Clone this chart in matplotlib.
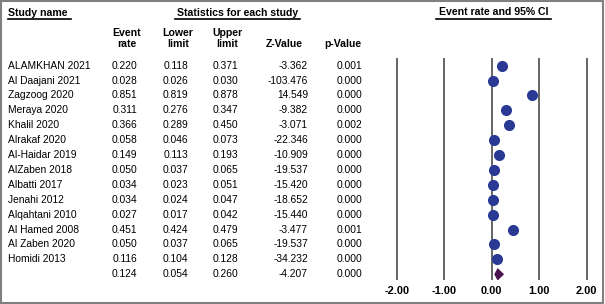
import matplotlib
matplotlib.use("Agg")
import matplotlib.pyplot as plt
from matplotlib import transforms
from matplotlib.lines import Line2D
from matplotlib.patches import Polygon, Rectangle

plt.rcParams['font.family'] = ['Liberation Sans', 'DejaVu Sans']

studies = ["ALAMKHAN 2021", "Al Daajani 2021", "Zagzoog 2020", "Meraya 2020", "Khalil 2020",
           "Alrakaf 2020", "Al-Haidar 2019", "AlZaben 2018", "Albatti 2017", "Jenahi 2012",
           "Alqahtani 2010", "Al Hamed 2008", "Al Zaben 2020", "Homidi 2013"]
event = [0.220, 0.028, 0.851, 0.311, 0.366, 0.058, 0.149, 0.050, 0.034, 0.034, 0.027, 0.451, 0.050, 0.116]
lower = [0.118, 0.026, 0.819, 0.276, 0.289, 0.046, 0.113, 0.037, 0.023, 0.024, 0.017, 0.424, 0.037, 0.104]
upper = [0.371, 0.030, 0.878, 0.347, 0.450, 0.073, 0.193, 0.065, 0.051, 0.047, 0.042, 0.479, 0.065, 0.128]
zval = [-3.362, -103.476, 14.549, -9.382, -3.071, -22.346, -10.909, -19.537, -15.420, -18.652,
        -15.440, -3.477, -19.537, -34.232]
pval = [0.001, 0.000, 0.000, 0.000, 0.002, 0.000, 0.000, 0.000, 0.000, 0.000, 0.000, 0.001, 0.000, 0.000]
summary = {"event": 0.124, "lower": 0.054, "upper": 0.260, "z": -4.207, "p": 0.000}
xticks = [-2, -1, 0, 1, 2]
xticklabels = ["-2.00", "-1.00", "0.00", "1.00", "2.00"]

W, H = 605, 304
fig = plt.figure(figsize=(W / 100, H / 100), dpi=100)
fig.patch.set_facecolor("white")

def fx(px):
    return px / W

def fy(py):
    return 1 - py / H

# forest axes
ax_left, ax_right = 387.2, 596.2
ax_top, ax_bot = 58, 280
ax = fig.add_axes([fx(ax_left), fy(ax_bot), (ax_right - ax_left) / W, (ax_bot - ax_top) / H])
n = len(studies)
row_top_px, row_step = 65.7, 14.9
ylim_top = -(row_top_px - ax_top) / row_step
last_px = row_top_px + n * row_step
ylim_bot = n + (ax_bot - last_px) / row_step
ax.set_xlim(-2.2, 2.2)
ax.set_ylim(ylim_bot, ylim_top)
for s in ax.spines.values():
    s.set_visible(False)
ax.set_yticks([])
ax.set_xticks(xticks)
ax.set_xticklabels(xticklabels, fontsize=7.9, fontweight='bold')
ax.tick_params(axis='x', length=0, pad=4.2)
ax.patch.set_alpha(0)
for t in xticks:
    ax.axvline(t, color='#3a3a3a', lw=1.1, zorder=1)

rows = list(range(n))
ax.plot(event, rows, 'o', color='#2a3a94', markersize=8.0, markeredgewidth=0, zorder=3, clip_on=False)
ys = n
diamond = Polygon([[summary["lower"], ys], [summary["event"], ys - 0.42],
                   [summary["upper"], ys], [summary["event"], ys + 0.42]],
                  closed=True, facecolor='#4a1350', edgecolor='none', zorder=3)
ax.add_patch(diamond)

# table text
trans = transforms.blended_transform_factory(fig.transFigure, ax.transData)
fs = 7.4
col_right = {"event": 137.5, "lower": 188, "upper": 238, "z": 308, "p": 362}
for i in range(n):
    fig.text(fx(8), i, studies[i], transform=trans, ha='left', va='center', fontsize=fs)
    fig.text(fx(col_right["event"]), i, f"{event[i]:.3f}", transform=trans, ha='right', va='center', fontsize=fs)
    fig.text(fx(col_right["lower"]), i, f"{lower[i]:.3f}", transform=trans, ha='right', va='center', fontsize=fs)
    fig.text(fx(col_right["upper"]), i, f"{upper[i]:.3f}", transform=trans, ha='right', va='center', fontsize=fs)
    fig.text(fx(col_right["z"]), i, f"{zval[i]:.3f}", transform=trans, ha='right', va='center', fontsize=fs)
    fig.text(fx(col_right["p"]), i, f"{pval[i]:.3f}", transform=trans, ha='right', va='center', fontsize=fs)
for key in ["event", "lower", "upper", "z", "p"]:
    fig.text(fx(col_right[key]), n, f"{summary[key]:.3f}", transform=trans, ha='right', va='center', fontsize=fs)

# headers
hfs = 7.6
fig.text(fx(8), fy(12.7), "Study name", ha='left', va='center', fontsize=hfs, fontweight='bold')
fig.text(fx(237.5), fy(12.7), "Statistics for each study", ha='center', va='center', fontsize=hfs, fontweight='bold')
fig.text(fx(493.5), fy(12.0), "Event rate and 95% CI", ha='center', va='center', fontsize=hfs, fontweight='bold')
for x0, x1, y in [(8, 71, 19.2), (175, 300, 19.2), (435.5, 551, 18.5)]:
    fig.add_artist(Line2D([fx(x0), fx(x1)], [fy(y), fy(y)], transform=fig.transFigure, color='black', lw=1.2))

col_heads = [(127, "Event", "rate"), (178, "Lower", "limit"), (227.5, "Upper", "limit"),
             (284, None, "Z-Value"), (342.5, None, "p-Value")]
for cx, l1, l2 in col_heads:
    if l1:
        fig.text(fx(cx), fy(33.3), l1, ha='center', va='center', fontsize=hfs, fontweight='bold')
    fig.text(fx(cx), fy(44.3), l2, ha='center', va='center', fontsize=hfs, fontweight='bold')

# outer border
fig.add_artist(Rectangle((fx(1), fy(302.5)), fx(602.5) - fx(1), fy(0.8) - fy(302.5),
                         transform=fig.transFigure, fill=False, edgecolor='#808080', lw=1.5))

fig.savefig("out.png", dpi=100)
